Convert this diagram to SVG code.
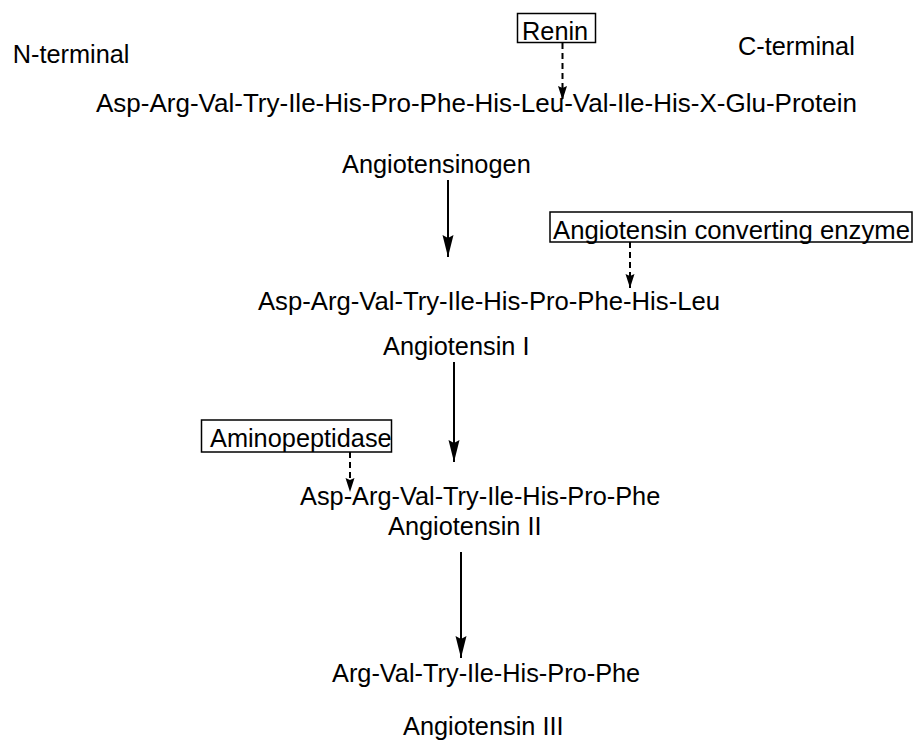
<svg xmlns="http://www.w3.org/2000/svg" width="913" height="740" viewBox="0 0 913 740">
<style>
text{font-family:"Liberation Sans",Arial,Helvetica,sans-serif;font-size:25.33px;fill:#000}
.box{fill:none;stroke:#000;stroke-width:1.5}
.solid{stroke:#000;stroke-width:2;fill:none}
.dash{stroke:#000;stroke-width:2;fill:none;stroke-dasharray:6 4}
</style>
<defs>
<marker id="ah" markerUnits="userSpaceOnUse" viewBox="-23 -6 24 12" refX="0" refY="0" markerWidth="24" markerHeight="12" orient="auto">
<path d="M0,0 L-22,-5.5 L-19,0 L-22,5.5 Z" fill="#000"/>
</marker>
<marker id="ahd" markerUnits="userSpaceOnUse" viewBox="-15 -5 16 10" refX="0" refY="0" markerWidth="16" markerHeight="10" orient="auto">
<path d="M0,0 L-14,-4.5 L-12,0 L-14,4.5 Z" fill="#000"/>
</marker>
</defs>
<rect width="913" height="740" fill="#fff"/>
<g id="labels">
<text x="12.7" y="63">N-terminal</text>
<text x="738" y="55">C-terminal</text>
</g>
<g id="angiotensinogen">
<text x="96" y="112" textLength="761" lengthAdjust="spacingAndGlyphs">Asp-Arg-Val-Try-Ile-His-Pro-Phe-His-Leu-Val-Ile-His-X-Glu-Protein</text>
<text x="342" y="173">Angiotensinogen</text>
</g>
<g id="renin">
<rect class="box" x="517.5" y="13.5" width="78" height="29"/>
<text x="522" y="40">Renin</text>
</g>
<g id="ace">
<rect class="box" x="550" y="212" width="362" height="30"/>
<text x="553" y="239" textLength="357" lengthAdjust="spacingAndGlyphs">Angiotensin converting enzyme</text>
</g>
<g id="angiotensin1">
<text x="258" y="310" textLength="462" lengthAdjust="spacingAndGlyphs">Asp-Arg-Val-Try-Ile-His-Pro-Phe-His-Leu</text>
<text x="383" y="355">Angiotensin I</text>
</g>
<g id="aminopeptidase">
<rect class="box" x="201.5" y="420" width="190" height="32"/>
<text x="210" y="446.7">Aminopeptidase</text>
</g>
<g id="angiotensin2">
<text x="300" y="505">Asp-Arg-Val-Try-Ile-His-Pro-Phe</text>
<text x="388" y="535">Angiotensin II</text>
</g>
<g id="angiotensin3">
<text x="332" y="682">Arg-Val-Try-Ile-His-Pro-Phe</text>
<text x="403" y="735">Angiotensin III</text>
</g>
<g id="connectors">
<line class="dash" x1="562.5" y1="43" x2="562.5" y2="100" marker-end="url(#ahd)"/>
<line class="dash" x1="630" y1="242" x2="630" y2="288" marker-end="url(#ahd)"/>
<line class="dash" x1="350" y1="452" x2="350" y2="492" marker-end="url(#ahd)"/>
<line class="solid" x1="448" y1="180" x2="448" y2="257" marker-end="url(#ah)"/>
<line class="solid" x1="454" y1="362" x2="454" y2="462" marker-end="url(#ah)"/>
<line class="solid" x1="461" y1="552" x2="461" y2="658" marker-end="url(#ah)"/>
</g>
</svg>
